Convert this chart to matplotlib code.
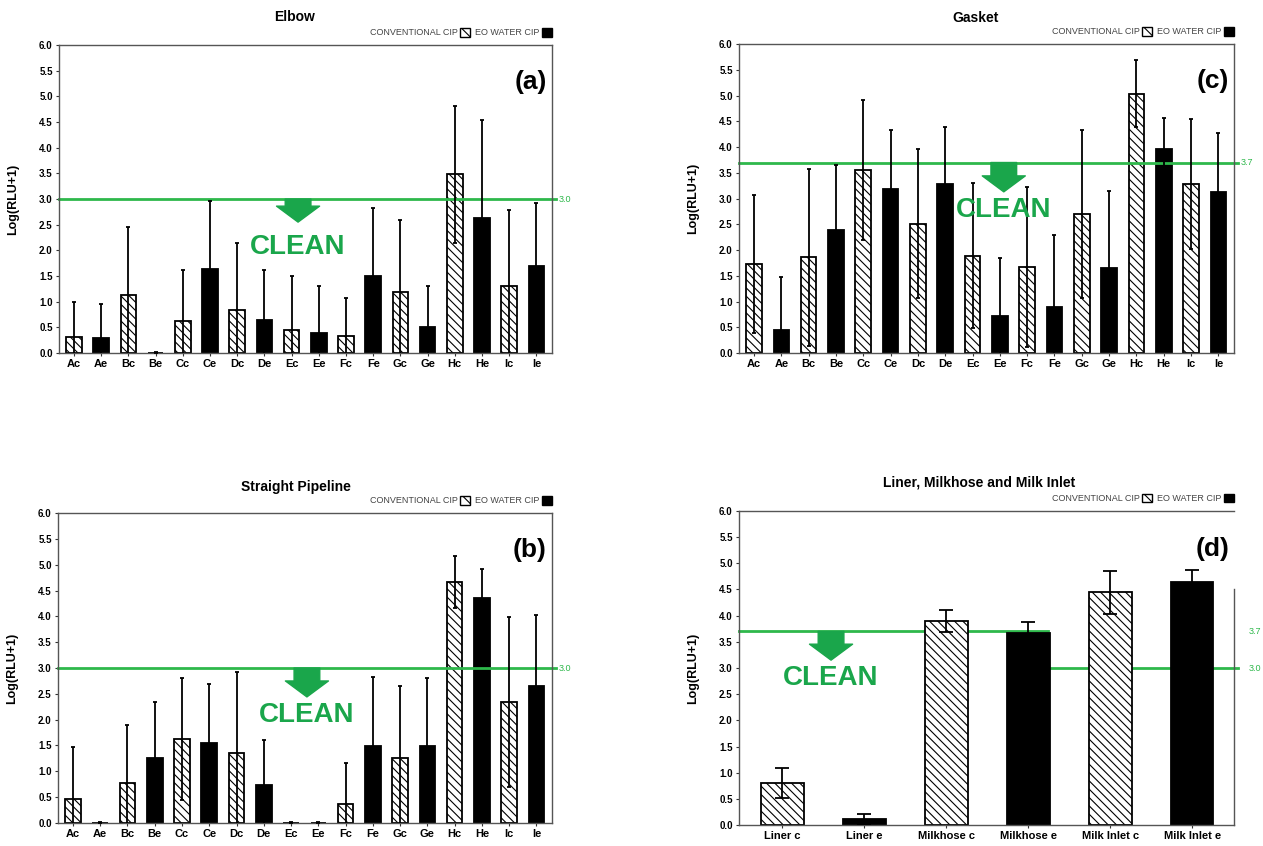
import numpy as np
import matplotlib
matplotlib.use('Agg')
import matplotlib.pyplot as plt
from matplotlib.patches import Patch

plt.rcParams['font.family'] = ['Liberation Sans', 'DejaVu Sans']
plt.rcParams['hatch.linewidth'] = 0.8

# 데이터 (평균, 표준편차) - c: conventional CIP, e: EO water CIP
site_labels = ['Ac', 'Ae', 'Bc', 'Be', 'Cc', 'Ce', 'Dc', 'De', 'Ec', 'Ee',
               'Fc', 'Fe', 'Gc', 'Ge', 'Hc', 'He', 'Ic', 'Ie']

elbow_mean = [0.31, 0.29, 1.13, 0.00, 0.63, 1.64, 0.83, 0.65, 0.45, 0.40,
              0.34, 1.50, 1.19, 0.51, 3.48, 2.63, 1.30, 1.69]
elbow_sd = [0.68, 0.66, 1.32, 0.02, 0.98, 1.32, 1.31, 0.96, 1.05, 0.90,
            0.73, 1.32, 1.40, 0.79, 1.33, 1.91, 1.48, 1.24]

gasket_mean = [1.73, 0.44, 1.86, 2.39, 3.56, 3.19, 2.51, 3.28, 1.89, 0.72,
               1.67, 0.90, 2.70, 1.65, 5.04, 3.96, 3.28, 3.12]
gasket_sd = [1.34, 1.03, 1.72, 1.27, 1.36, 1.15, 1.45, 1.11, 1.41, 1.12,
             1.56, 1.39, 1.64, 1.50, 0.66, 0.60, 1.26, 1.15]

pipe_mean = [0.46, 0.00, 0.77, 1.25, 1.63, 1.55, 1.36, 0.74, 0.00, 0.00,
             0.36, 1.49, 1.25, 1.49, 4.66, 4.35, 2.34, 2.66]
pipe_sd = [1.02, 0.02, 1.13, 1.10, 1.18, 1.15, 1.57, 0.86, 0.02, 0.02,
           0.80, 1.34, 1.41, 1.32, 0.50, 0.57, 1.65, 1.36]

liner_labels = ['Liner c', 'Liner e', 'Milkhose c', 'Milkhose e', 'Milk Inlet c', 'Milk Inlet e']
liner_mean = [0.80, 0.11, 3.90, 3.67, 4.45, 4.65]
liner_sd = [0.28, 0.10, 0.21, 0.21, 0.41, 0.22]

# 기준선 (clean threshold)
elbow_limit = 3.0
gasket_limit = 3.7
pipe_limit = 3.0
liner_limits = [3.7, 3.0]

green_line = '#2eb84b'
green_text = '#1aa64b'
hatch = '\\\\\\\\'


def draw_panel(ax, labels, mean, sd, title, letter, bar_w, cap, xlim, title_x, title_y):
    x = np.arange(len(labels))
    for i in range(len(labels)):
        if i % 2 == 0:
            ax.bar(x[i], mean[i], bar_w, color='white', edgecolor='black', hatch=hatch, lw=1.3, zorder=2)
        else:
            ax.bar(x[i], mean[i], bar_w, color='black', edgecolor='black', lw=1.3, zorder=2)
    ax.errorbar(x, mean, yerr=sd, fmt='none', ecolor='black', elinewidth=1.3,
                capsize=cap, capthick=1.3, zorder=3)
    ax.set_xlim(xlim)
    ax.set_ylim(0, 6)
    yt = np.arange(0, 6.01, 0.5)
    ax.set_yticks(yt)
    ax.set_yticklabels(['%.1f' % v for v in yt], fontsize=7, fontweight='bold')
    ax.set_xticks(x)
    ax.set_xticklabels(labels, fontsize=8, fontweight='bold')
    ax.tick_params(axis='both', length=2.5, width=0.8, colors='#333333', pad=2)
    ax.tick_params(axis='x', labelcolor='black')
    ax.tick_params(axis='y', labelcolor='black')
    for s in ax.spines.values():
        s.set_color('#555555')
        s.set_linewidth(1.0)
    ax.set_ylabel('Log(RLU+1)', fontsize=9, fontweight='bold')
    ax.yaxis.set_label_coords(-0.08, 0.5)
    ax.text(title_x, title_y, title, transform=ax.transAxes, ha='center', va='center',
            fontsize=10, fontweight='bold')
    ax.text(0.99, 0.88, letter, transform=ax.transAxes, ha='right', va='center',
            fontsize=19, fontweight='bold')
    handles = [Patch(facecolor='white', edgecolor='black', hatch='\\\\'),
               Patch(facecolor='black', edgecolor='black')]
    ax.legend(handles, ['CONVENTIONAL CIP', 'EO WATER CIP'], ncol=2, markerfirst=False,
              loc='center right', bbox_to_anchor=(1.0, 1.04), frameon=False,
              fontsize=6.5, handlelength=1.1, handleheight=1.1, handletextpad=0.3,
              columnspacing=0.5, borderpad=0, borderaxespad=0, labelcolor='#444444')


def draw_clean(ax, xa, y_top, y_tip, y_text):
    ax.annotate('', xy=(xa, y_tip), xytext=(xa, y_top),
                xycoords=('axes fraction', 'data'), textcoords=('axes fraction', 'data'),
                arrowprops=dict(arrowstyle='simple,head_length=1.15,head_width=3.1,tail_width=1.85',
                                color=green_text, shrinkA=0, shrinkB=0, mutation_scale=10),
                zorder=4)
    ax.text(xa, y_text, 'CLEAN', transform=ax.get_yaxis_transform(), ha='center', va='center',
            fontsize=20, fontweight='bold', color=green_text, zorder=4)


def limit_line(ax, y, x0=0.0, x1=1.008, label=True, z=2.5):
    ax.plot([x0, x1], [y, y], color=green_line, lw=2, transform=ax.get_yaxis_transform(),
            clip_on=False, zorder=z)
    if label:
        ax.text(1.014, y, '%.1f' % y, transform=ax.get_yaxis_transform(), ha='left', va='center',
                fontsize=6.5, color=green_line)


fig = plt.figure(figsize=(12.63, 8.46), dpi=100)
ax_a = fig.add_axes([0.0467, 0.5827, 0.3903, 0.3641])
ax_b = fig.add_axes([0.0459, 0.0272, 0.3911, 0.3664])
ax_c = fig.add_axes([0.5851, 0.5827, 0.3919, 0.3652])
ax_d = fig.add_axes([0.5851, 0.0248, 0.3919, 0.3712])

# (a) Elbow
draw_panel(ax_a, site_labels, elbow_mean, elbow_sd, 'Elbow', '(a)', 0.57, 1.5,
           (-0.55, 17.57), 0.477, 1.09)
limit_line(ax_a, elbow_limit)
draw_clean(ax_a, 0.485, elbow_limit, 2.55, 2.06)

# (b) Straight Pipeline
draw_panel(ax_b, site_labels, pipe_mean, pipe_sd, 'Straight Pipeline', '(b)', 0.57, 1.5,
           (-0.55, 17.57), 0.482, 1.084)
limit_line(ax_b, pipe_limit)
draw_clean(ax_b, 0.504, pipe_limit, 2.44, 2.09)

# (c) Gasket
draw_panel(ax_c, site_labels, gasket_mean, gasket_sd, 'Gasket', '(c)', 0.57, 1.5,
           (-0.55, 17.57), 0.477, 1.085)
limit_line(ax_c, gasket_limit)
draw_clean(ax_c, 0.535, gasket_limit, 3.13, 2.78)

# (d) Liner, Milkhose and Milk Inlet - 기준선은 막대 뒤에
draw_panel(ax_d, liner_labels, liner_mean, liner_sd, 'Liner, Milkhose and Milk Inlet', '(d)',
           0.52, 5, (-0.53, 5.51), 0.485, 1.09)
limit_line(ax_d, liner_limits[0], 0.0, 0.624, label=False, z=1)
limit_line(ax_d, liner_limits[1], 0.624, 1.008, label=False, z=1)
for v in liner_limits:
    ax_d.text(1.03, v, '%.1f' % v, transform=ax_d.get_yaxis_transform(), ha='left', va='center',
              fontsize=6.5, color=green_line)
ax_d.spines['right'].set_bounds(0, 4.5)
draw_clean(ax_d, 0.186, liner_limits[0], 3.15, 2.81)

plt.savefig('out.png', dpi=100)
